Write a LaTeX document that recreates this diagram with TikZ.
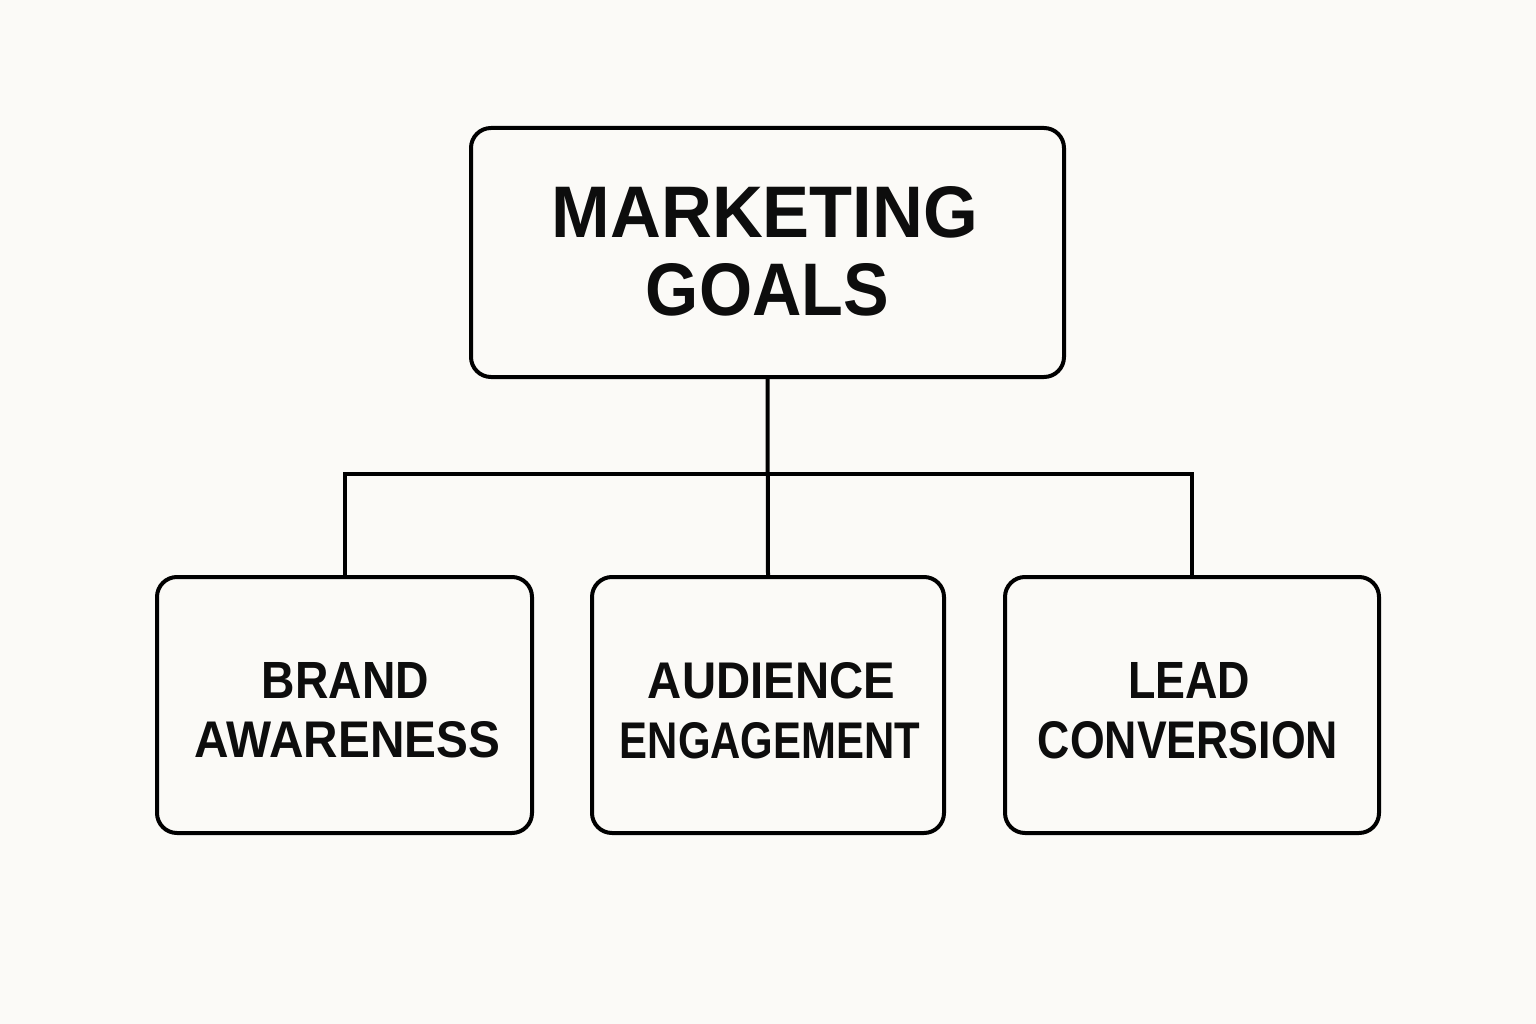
\documentclass[tikz,border=0pt]{standalone}
\usepackage{fontspec}
\setmainfont{Liberation Sans}
\usepackage{graphicx}
\definecolor{bg}{HTML}{FBFAF7}
\newcommand{\fitw}[3]{\resizebox{#1pt}{#2pt}{\bfseries #3}}
\begin{document}
\begin{tikzpicture}[x=1pt,y=-1pt,
  box/.style={draw=black,line width=4pt,rounded corners=20pt,inner sep=0pt,outer sep=0pt},
  lbl/.style={inner sep=0pt,outer sep=0pt,anchor=base,text=black!95},
  conn/.style={draw=black,line width=4pt}]
\fill[bg] (0,0) rectangle (1536,1024);
\useasboundingbox (0,0) rectangle (1536,1024);
% boxes
\node[box,minimum width=593pt,minimum height=249pt] (top) at (767.5,252.5) {};
\node[box,minimum width=375pt,minimum height=256pt] (b1) at (344.5,705) {};
\node[box,minimum width=352pt,minimum height=256pt] (b2) at (768,705) {};
\node[box,minimum width=374pt,minimum height=256pt] (b3) at (1192,705) {};
% connectors
\coordinate (j) at (768,474);
\draw[conn] (top.south) -- (b2.north);
\draw[conn] (b1.north) -- (b1.north |- j) -- (b3.north |- j) -- (b3.north);
% labels
\node[lbl] (t1) at (765,238) {\fitw{426}{51}{MARKETING}};
\node[lbl] (t2) at (767.5,316) {\fitw{243}{52}{GOALS}};
\node[lbl] (l1a) at (345.5,698) {\fitw{167}{36}{BRAND}};
\node[lbl] (l1b) at (347.5,757) {\fitw{305}{36}{AWARENESS}};
\node[lbl] (l2a) at (771.5,698) {\fitw{247}{36}{AUDIENCE}};
\node[lbl] (l2b) at (770,758) {\fitw{300}{36}{ENGAGEMENT}};
\node[lbl] (l3a) at (1189,698) {\fitw{122}{36}{LEAD}};
\node[lbl] (l3b) at (1188,758) {\fitw{300}{37}{CONVERSION}};
\end{tikzpicture}
\end{document}
